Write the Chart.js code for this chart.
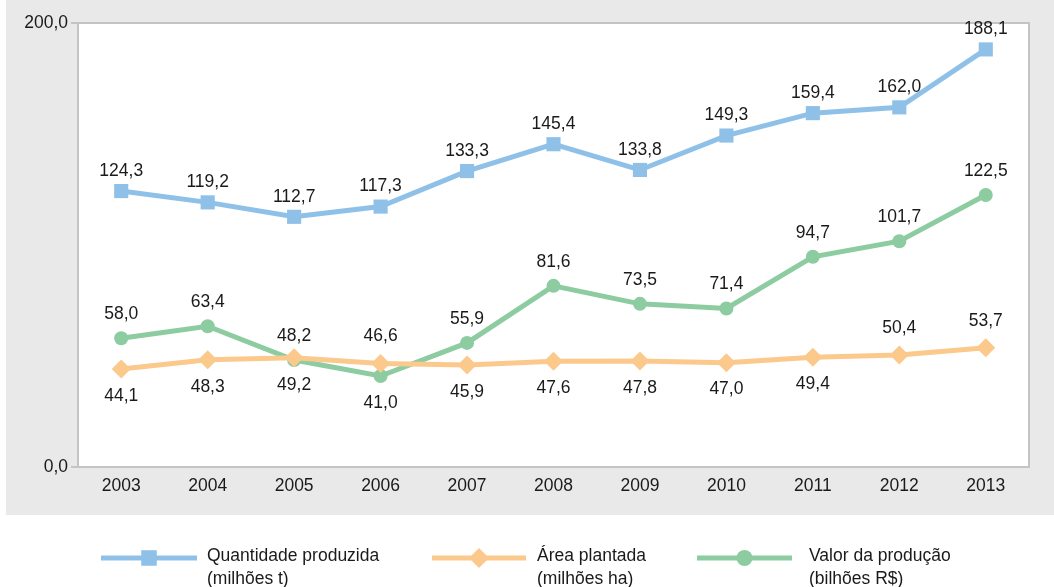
<!DOCTYPE html>
<html>
<head>
<meta charset="utf-8">
<script src="https://cdn.jsdelivr.net/npm/chart.js"></script>
<style>
  html, body { margin: 0; padding: 0; background: #fff; }
  #wrap { width: 1054px; height: 587px; }
</style>
</head>
<body>
<div id="wrap"><canvas id="chart" width="1054" height="587"></canvas></div>
<script>
const years = ['2003', '2004', '2005', '2006', '2007', '2008', '2009', '2010', '2011', '2012', '2013'];
const quantidade = [124.3, 119.2, 112.7, 117.3, 133.3, 145.4, 133.8, 149.3, 159.4, 162.0, 188.1];
const area = [44.1, 48.3, 49.2, 46.6, 45.9, 47.6, 47.8, 47.0, 49.4, 50.4, 53.7];
const valor = [58.0, 63.4, 48.2, 41.0, 55.9, 81.6, 73.5, 71.4, 94.7, 101.7, 122.5];

// which side of the point each value label sits on
const quantidadeSide = ['up', 'up', 'up', 'up', 'up', 'up', 'up', 'up', 'up', 'up', 'up'];
const areaSide = ['down', 'down', 'down', 'up', 'down', 'down', 'down', 'down', 'down', 'up', 'up'];
const valorSide = ['up', 'up', 'up', 'down', 'up', 'up', 'up', 'up', 'up', 'up', 'up'];

const yTicks = [0, 200];

const BLUE = '#8fc1e8';
const ORANGE = '#fbc98c';
const GREEN = '#8ccca0';
const AXIS = '#c4c4c4';
const FONT = '"Liberation Sans", Arial, sans-serif';

const fmt = v => v.toFixed(1).replace('.', ',');

const background = {
    id: 'background',
    beforeDraw(chart) {
        const c = chart.ctx;
        c.save();
        c.fillStyle = '#fff';
        c.fillRect(0, 0, chart.width, chart.height);
        c.fillStyle = '#e9e9e9';
        c.fillRect(6, 0, chart.width - 6, 515);
        const a = chart.chartArea;
        c.fillStyle = '#fff';
        c.fillRect(a.left, a.top, a.right - a.left, a.bottom - a.top);
        c.restore();
    },
    beforeDatasetsDraw(chart) {
        // top and right frame lines
        const c = chart.ctx;
        const a = chart.chartArea;
        c.save();
        c.strokeStyle = AXIS;
        c.lineWidth = 2;
        c.beginPath();
        c.moveTo(a.left, a.top);
        c.lineTo(a.right, a.top);
        c.lineTo(a.right, a.bottom);
        c.stroke();
        c.restore();
    }
};

const valueLabels = {
    id: 'valueLabels',
    afterDatasetsDraw(chart) {
        const c = chart.ctx;
        c.save();
        c.font = '17.5px ' + FONT;
        c.fillStyle = '#1a1a1a';
        c.textAlign = 'center';
        c.textBaseline = 'middle';
        chart.data.datasets.forEach((ds, i) => {
            const meta = chart.getDatasetMeta(i);
            meta.data.forEach((pt, j) => {
                const dy = ds.sides[j] === 'up' ? -ds.gapUp : 27;
                c.fillText(fmt(ds.data[j]), pt.x, pt.y + dy);
            });
        });
        c.restore();
    }
};

const bottomLegend = {
    id: 'bottomLegend',
    afterDraw(chart) {
        const c = chart.ctx;
        const items = [
            { color: BLUE, style: 'rect', r: 11, x0: 101, x1: 197, text: ['Quantidade produzida', '(milhões t)'], tx: 207 },
            { color: ORANGE, style: 'rectRot', r: 10, x0: 432, x1: 526, text: ['Área plantada', '(milhões ha)'], tx: 537 },
            { color: GREEN, style: 'circle', r: 8, x0: 697, x1: 792, text: ['Valor da produção', '(bilhões R$)'], tx: 809 }
        ];
        const y = 558;
        c.save();
        items.forEach(it => {
            c.strokeStyle = it.color;
            c.lineWidth = 5;
            c.beginPath();
            c.moveTo(it.x0, y);
            c.lineTo(it.x1, y);
            c.stroke();
            const cx = (it.x0 + it.x1) / 2;
            c.fillStyle = it.color;
            Chart.helpers.drawPoint(c, { pointStyle: it.style, radius: it.r, borderWidth: 0 }, cx, y);
            c.fillStyle = '#1a1a1a';
            c.font = '17.5px ' + FONT;
            c.textAlign = 'left';
            c.textBaseline = 'middle';
            c.fillText(it.text[0], it.tx, y - 2);
            c.fillText(it.text[1], it.tx, y + 21);
        });
        c.restore();
    }
};

const ctx = document.getElementById('chart').getContext('2d');

new Chart(ctx, {
    type: 'line',
    data: {
        labels: years,
        datasets: [
            {
                label: 'Quantidade produzida (milhões t)',
                data: quantidade,
                sides: quantidadeSide,
                gapUp: 20,
                borderColor: BLUE,
                backgroundColor: BLUE,
                borderWidth: 5,
                pointStyle: 'rect',
                pointRadius: 10,
                pointBorderWidth: 0,
                tension: 0
            },
            {
                label: 'Área plantada (milhões ha)',
                data: area,
                sides: areaSide,
                gapUp: 27,
                borderColor: ORANGE,
                backgroundColor: ORANGE,
                borderWidth: 5,
                pointStyle: 'rectRot',
                pointRadius: 9.5,
                pointBorderWidth: 0,
                tension: 0
            },
            {
                label: 'Valor da produção (bilhões R$)',
                data: valor,
                sides: valorSide,
                gapUp: 24,
                borderColor: GREEN,
                backgroundColor: GREEN,
                borderWidth: 5,
                pointStyle: 'circle',
                pointRadius: 7,
                pointBorderWidth: 0,
                tension: 0
            }
        ]
    },
    options: {
        responsive: false,
        animation: false,
        layout: { padding: { top: 23, right: 25, left: 0, bottom: 0 } },
        plugins: {
            legend: { display: false },
            tooltip: { enabled: false }
        },
        scales: {
            x: {
                offset: true,
                grid: { display: false, drawTicks: false },
                border: { display: true, color: AXIS, width: 2 },
                ticks: { color: '#1a1a1a', font: { family: FONT, size: 17.5 }, padding: 9 },
                afterFit: s => { s.height = 120; }
            },
            y: {
                min: 0,
                max: 200,
                afterBuildTicks: s => { s.ticks = yTicks.map(v => ({ value: v })); },
                grid: { drawOnChartArea: false, drawTicks: true, tickLength: 7, color: AXIS, lineWidth: 2 },
                border: { display: true, color: AXIS, width: 2 },
                ticks: { color: '#1a1a1a', font: { family: FONT, size: 17.5 }, padding: 3, callback: v => fmt(v) },
                afterFit: s => { s.width = 78; }
            }
        }
    },
    plugins: [background, valueLabels, bottomLegend]
});
</script>
</body>
</html>
